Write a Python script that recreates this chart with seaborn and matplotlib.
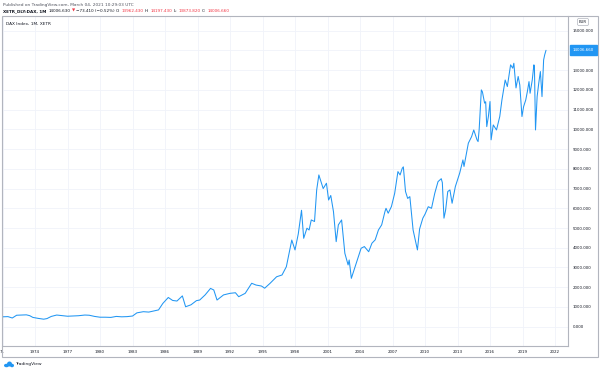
import numpy as np
import pandas as pd
import matplotlib
matplotlib.use("Agg")
import matplotlib.pyplot as plt
import seaborn as sns
from matplotlib.patches import Rectangle, Ellipse

# ---- data (decimal year, DAX monthly close) ----
years = [1971.0, 1971.5, 1971.9, 1972.3, 1972.8, 1973.2, 1973.5, 1973.8, 1974.3, 1974.8,
         1975.1, 1975.5, 1976.0, 1976.5, 1977.0, 1977.5, 1978.0, 1978.6, 1979.0, 1979.5,
         1980.0, 1980.5, 1981.0, 1981.5, 1982.0, 1982.5, 1983.0, 1983.4, 1984.0, 1984.5,
         1984.9, 1985.4, 1985.8, 1986.3, 1986.7, 1987.1, 1987.6, 1987.9, 1988.4, 1988.9,
         1989.2, 1989.7, 1990.2, 1990.5, 1990.8, 1991.4, 1992.0, 1992.5, 1992.8, 1993.4,
         1994.0, 1994.4, 1994.9, 1995.2, 1995.7, 1996.3, 1996.8, 1997.2, 1997.7, 1998.0,
         1998.3, 1998.6, 1998.8, 1999.1, 1999.3, 1999.5, 1999.8, 2000.0, 2000.2, 2000.4,
         2000.6, 2000.9, 2001.1, 2001.3, 2001.55, 2001.8, 2002.0, 2002.3, 2002.6, 2002.9,
         2003.0, 2003.2, 2003.5, 2003.8, 2004.1, 2004.4, 2004.8, 2005.1, 2005.4, 2005.7,
         2006.0, 2006.3, 2006.4, 2006.6, 2006.9, 2007.2, 2007.5, 2007.7, 2007.9, 2008.0,
         2008.2, 2008.4, 2008.6, 2008.9, 2009.0, 2009.3, 2009.5, 2009.8, 2010.0, 2010.3,
         2010.6, 2010.9, 2011.2, 2011.5, 2011.6, 2011.75, 2011.9, 2012.1, 2012.3, 2012.5,
         2012.8, 2013.2, 2013.5, 2013.6, 2014.0, 2014.3, 2014.5, 2014.8, 2014.9, 2015.0,
         2015.2, 2015.3, 2015.5, 2015.6, 2015.7, 2015.85, 2016.0, 2016.1, 2016.3, 2016.6,
         2016.9, 2017.1, 2017.4, 2017.6, 2017.9, 2018.1, 2018.2, 2018.4, 2018.6, 2018.75,
         2018.95, 2019.1, 2019.3, 2019.45, 2019.6, 2019.7, 2019.9, 2020.05, 2020.1, 2020.2,
         2020.35, 2020.5, 2020.65, 2020.8, 2020.95, 2021.05, 2021.17]
closes = [500, 510, 440, 580, 590, 600, 560, 470, 420, 380,
          410, 520, 590, 560, 530, 545, 555, 590, 580, 520,
          480, 480, 470, 520, 500, 510, 540, 700, 760, 740,
          790, 850, 1180, 1480, 1330, 1300, 1560, 1010, 1110, 1320,
          1350, 1610, 1940, 1860, 1350, 1610, 1690, 1720, 1520, 1690,
          2200, 2110, 2060, 1950, 2200, 2530, 2620, 3040, 4390, 3890,
          4700, 5900, 4480, 4990, 4900, 5410, 5330, 6930, 7690, 7350,
          7000, 7270, 6420, 6650, 5830, 4310, 5160, 5410, 3720, 3130,
          3380, 2450, 2960, 3470, 3975, 4060, 3800, 4230, 4400, 4900,
          5160, 5830, 6000, 5750, 6090, 6760, 7860, 7690, 8030, 8100,
          6850, 6500, 6590, 4900, 4650, 3890, 4950, 5500, 5700, 6080,
          6000, 6760, 7350, 7500, 7300, 5500, 5900, 6850, 6930, 6255,
          7100, 7780, 8450, 8120, 9300, 9630, 9970, 9470, 9380, 10000,
          12000, 11900, 11330, 11400, 10140, 10650, 11410, 9470, 10225, 9970,
          10650, 11490, 12500, 12170, 13270, 13100, 13350, 12100, 12680, 12250,
          10650, 11150, 11490, 11920, 12420, 11830, 12500, 13270, 13180, 9970,
          11660, 12340, 12930, 11660, 13520, 13780, 14006.66]
tick_years = list(range(1971, 2023, 3))
tick_labels = ["71"] + [str(y) for y in tick_years[1:]]
price_ticks = list(range(0, 15001, 1000))
last_price = 14006.66

df = pd.DataFrame({"year": years, "close": closes})

sns.set_style("white")
plt.rcParams["font.family"] = ["DejaVu Sans"]

W, H = 600, 371
fig = plt.figure(figsize=(6, 3.71), dpi=100)
fig.patch.set_facecolor("white")

def fx(px):
    return px / W

def fy(py):
    return 1 - py / H

ax = fig.add_axes([fx(2), fy(346), fx(568) - fx(2), fy(16) - fy(346)])
sns.lineplot(data=df, x="year", y="close", ax=ax, color="#2196f3", linewidth=0.75)

ax.set_xlim(1970.95, 2023.2)
ax.set_ylim(-979, 15745)
ax.set_xticks(tick_years)
ax.set_xticklabels(tick_labels)
ax.set_yticks(price_ticks)
# the 14000 label is hidden under the last-price marker in the reference
ax.set_yticklabels(["" if v == 14000 else f"{v:.3f}" for v in price_ticks])
ax.yaxis.tick_right()
ax.tick_params(axis="x", length=0, labelsize=2.9, colors="#131722", pad=2.6)
ax.tick_params(axis="y", length=0, labelsize=2.8, colors="#131722", pad=3.6)
ax.grid(True, color="#f0f3fa", linewidth=0.6)
ax.set_xlabel("")
ax.set_ylabel("")
for side in ["left", "top"]:
    ax.spines[side].set_visible(False)
for side in ["right", "bottom"]:
    ax.spines[side].set_color("#b2b5be")
    ax.spines[side].set_linewidth(0.8)

# outer frame
fig.patches.append(Rectangle((fx(2), fy(357)), fx(598) - fx(2), fy(16) - fy(357),
                             transform=fig.transFigure, fill=False,
                             edgecolor="#b2b5be", linewidth=0.8))

# legend title inside
fig.text(fx(6), fy(24), "DAX Index, 1M, XETR", fontsize=3.1, color="#131722", va="center")

# header line 1
fig.text(fx(3), fy(5), "Published on TradingView.com, March 04, 2021 10:29:03 UTC",
         fontsize=3.1, color="#50535e", va="center")

# header line 2 (chained pieces)
pieces = [("XETR_DLY:DAX, 1M", "#131722", "bold"),
          ("14006.630", "#131722", "normal"),
          ("\u25bc", "#f23645", "normal"),
          ("\u221273.410 (\u22120.52%)", "#131722", "normal"),
          ("O:", "#131722", "normal"),
          ("13962.430", "#f23645", "normal"),
          ("H:", "#131722", "normal"),
          ("14197.430", "#f23645", "normal"),
          ("L:", "#131722", "normal"),
          ("13873.820", "#f23645", "normal"),
          ("C:", "#131722", "normal"),
          ("14006.660", "#f23645", "normal")]
gaps = [2.0, 1.2, 1.2, 1.5, 1.0, 1.5, 1.0, 1.5, 1.0, 1.5, 1.0]
texts = []
for txt, col, wt in pieces:
    texts.append(fig.text(fx(3), fy(11), txt, fontsize=3.0, color=col,
                          fontweight=wt, va="center"))
fig.canvas.draw()
r = fig.canvas.get_renderer()
x0 = texts[0].get_window_extent(r).x1
for t, g in zip(texts[1:], gaps):
    x0 += g
    t.set_position((x0 / fig.bbox.width, fy(11)))
    x0 = t.get_window_extent(r).x1

# last price label
ax.annotate(f"{last_price:.3f}", xy=(1.0, last_price), xycoords=ax.get_yaxis_transform(),
            xytext=(11.0, 0), textcoords="offset points",
            fontsize=2.9, color="white", va="center", ha="center", zorder=10,
            bbox=dict(boxstyle="square,pad=0.75", fc="#2196f3", ec="#2196f3"))

# EUR label
fig.text(fx(583), fy(22), "EUR", fontsize=2.8, color="#131722", ha="center", va="center",
         bbox=dict(boxstyle="round,pad=0.4", fc="white", ec="#b2b5be", lw=0.5))

# TradingView logo (small cloud from ellipses + word)
for cx, cy, w, h in [(6.5, 365.5, 5, 3.5), (9.5, 364.0, 5, 5), (12.0, 365.5, 4, 3.5)]:
    fig.patches.append(Ellipse((fx(cx), fy(cy)), w / W, h / H, transform=fig.transFigure,
                               fc="#2196f3", ec="none"))
fig.text(fx(15), fy(364.5), "TradingView", fontsize=3.2, color="#131722", va="center")

fig.savefig("out.png", dpi=100, facecolor="white")
